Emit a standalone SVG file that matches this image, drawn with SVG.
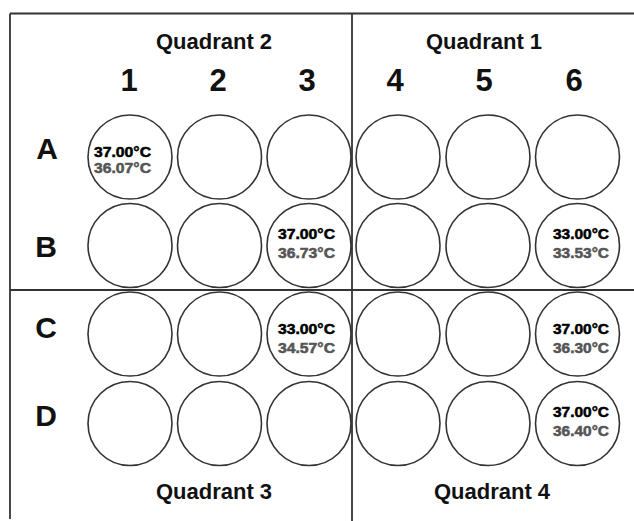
<svg xmlns="http://www.w3.org/2000/svg" width="634" height="521" viewBox="0 0 634 521">
<style>
.frame{stroke:#333;stroke-width:1.8;fill:none}
.well{fill:#fff;stroke:#333;stroke-width:1.6}
.quad{font-family:"Liberation Sans",Arial,sans-serif;font-weight:bold;font-size:22px;fill:#111;text-anchor:middle}
.col{font-family:"Liberation Sans",Arial,sans-serif;font-weight:bold;font-size:31px;fill:#111;text-anchor:middle}
.row{font-family:"Liberation Sans",Arial,sans-serif;font-weight:bold;font-size:30px;fill:#111;text-anchor:middle}
.t1{font-family:"Liberation Sans",Arial,sans-serif;font-weight:bold;font-size:14px;fill:#000;stroke:#000;stroke-width:0.5}
.t2{font-family:"Liberation Sans",Arial,sans-serif;font-weight:bold;font-size:14px;fill:#555;stroke:#555;stroke-width:0.5}
</style>
<rect width="634" height="521" fill="#fff"/>
<g id="frame">
<line class="frame" x1="10" y1="13.5" x2="634" y2="13.5"/>
<line class="frame" x1="10" y1="13.5" x2="10" y2="519"/>
<line class="frame" x1="352" y1="13.5" x2="352" y2="521"/>
<line class="frame" x1="10" y1="290" x2="634" y2="290"/>
</g>
<g id="labels">
<text class="quad" x="214" y="49">Quadrant 2</text>
<text class="quad" x="484" y="49">Quadrant 1</text>
<text class="quad" x="214" y="499">Quadrant 3</text>
<text class="quad" x="492" y="499">Quadrant 4</text>
<text class="col" x="129" y="91">1</text>
<text class="col" x="218" y="91">2</text>
<text class="col" x="307" y="91">3</text>
<text class="col" x="395" y="91">4</text>
<text class="col" x="484" y="91">5</text>
<text class="col" x="574" y="91">6</text>
<text class="row" x="47" y="159">A</text>
<text class="row" x="46" y="257">B</text>
<text class="row" x="46" y="338">C</text>
<text class="row" x="46" y="426">D</text>
</g>
<g id="wells">
<g id="A1"><circle class="well" cx="130" cy="157" r="42"/><text class="t1" x="94" y="157" textLength="57" lengthAdjust="spacingAndGlyphs">37.00°C</text><text class="t2" x="94" y="173" textLength="57" lengthAdjust="spacingAndGlyphs">36.07°C</text></g>
<g id="A2"><circle class="well" cx="219.5" cy="157" r="42"/></g>
<g id="A3"><circle class="well" cx="309" cy="157" r="42"/></g>
<g id="A4"><circle class="well" cx="398" cy="157" r="42"/></g>
<g id="A5"><circle class="well" cx="488" cy="157" r="42"/></g>
<g id="A6"><circle class="well" cx="577.5" cy="157" r="42"/></g>
<g id="B1"><circle class="well" cx="130" cy="245.5" r="42"/></g>
<g id="B2"><circle class="well" cx="219.5" cy="245.5" r="42"/></g>
<g id="B3"><circle class="well" cx="309" cy="245.5" r="42"/><text class="t1" x="278" y="239" textLength="57" lengthAdjust="spacingAndGlyphs">37.00°C</text><text class="t2" x="278" y="258" textLength="57" lengthAdjust="spacingAndGlyphs">36.73°C</text></g>
<g id="B4"><circle class="well" cx="398" cy="245.5" r="42"/></g>
<g id="B5"><circle class="well" cx="488" cy="245.5" r="42"/></g>
<g id="B6"><circle class="well" cx="577.5" cy="245.5" r="42"/><text class="t1" x="553" y="239" textLength="56" lengthAdjust="spacingAndGlyphs">33.00°C</text><text class="t2" x="553" y="258" textLength="56" lengthAdjust="spacingAndGlyphs">33.53°C</text></g>
<g id="C1"><circle class="well" cx="130" cy="334" r="42"/></g>
<g id="C2"><circle class="well" cx="219.5" cy="334" r="42"/></g>
<g id="C3"><circle class="well" cx="309" cy="334" r="42"/><text class="t1" x="278" y="334" textLength="57" lengthAdjust="spacingAndGlyphs">33.00°C</text><text class="t2" x="278" y="353" textLength="57" lengthAdjust="spacingAndGlyphs">34.57°C</text></g>
<g id="C4"><circle class="well" cx="398" cy="334" r="42"/></g>
<g id="C5"><circle class="well" cx="488" cy="334" r="42"/></g>
<g id="C6"><circle class="well" cx="577.5" cy="334" r="42"/><text class="t1" x="553" y="334" textLength="56" lengthAdjust="spacingAndGlyphs">37.00°C</text><text class="t2" x="553" y="353" textLength="56" lengthAdjust="spacingAndGlyphs">36.30°C</text></g>
<g id="D1"><circle class="well" cx="130" cy="423.5" r="42"/></g>
<g id="D2"><circle class="well" cx="219.5" cy="423.5" r="42"/></g>
<g id="D3"><circle class="well" cx="309" cy="423.5" r="42"/></g>
<g id="D4"><circle class="well" cx="398" cy="423.5" r="42"/></g>
<g id="D5"><circle class="well" cx="488" cy="423.5" r="42"/></g>
<g id="D6"><circle class="well" cx="577.5" cy="423.5" r="42"/><text class="t1" x="553" y="417" textLength="56" lengthAdjust="spacingAndGlyphs">37.00°C</text><text class="t2" x="553" y="436" textLength="56" lengthAdjust="spacingAndGlyphs">36.40°C</text></g>
</g>
</svg>
